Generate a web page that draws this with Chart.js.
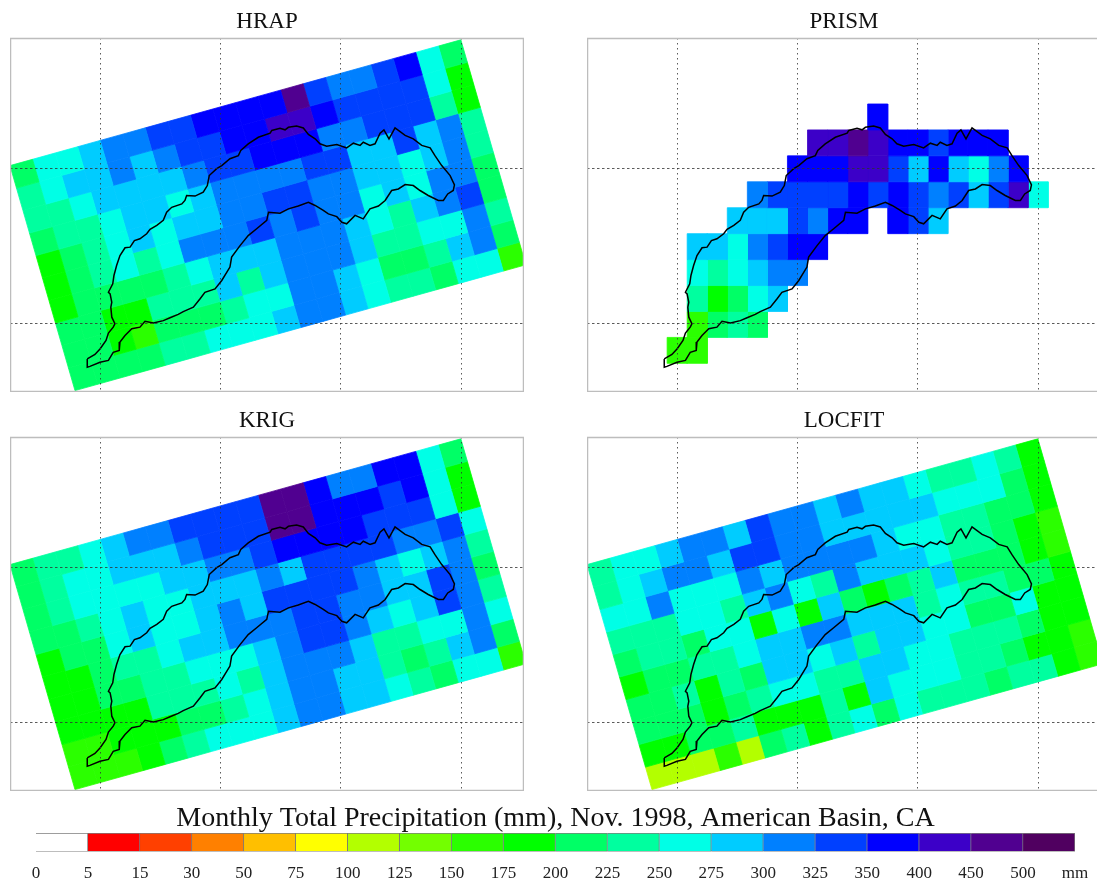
<!DOCTYPE html>
<html>
<head>
<meta charset="utf-8">
<title>Monthly Total Precipitation</title>
<script src="https://cdn.jsdelivr.net/npm/chart.js@4/dist/chart.umd.min.js"></script>
<style>
  html, body { margin: 0; padding: 0; background: #fff; overflow: hidden; width: 1097px; height: 883px; }
  canvas { position: absolute; filter: blur(0.6px); }
  #hrap { left: 10px; top: 2px; }
  #prism { left: 587px; top: 2px; }
  #krig { left: 10px; top: 401px; }
  #locfit { left: 587px; top: 401px; }
  #scale { left: 0; top: 800px; }
</style>
</head>
<body>
<canvas id="hrap" width="514" height="390"></canvas>
<canvas id="prism" width="514" height="390"></canvas>
<canvas id="krig" width="514" height="390"></canvas>
<canvas id="locfit" width="514" height="390"></canvas>
<canvas id="scale" width="1097" height="96"></canvas>
<script>
var n = null;

// colour scale, mm
var binEdges = [0, 5, 15, 30, 50, 75, 100, 125, 150, 175, 200, 225, 250, 275, 300, 325, 350, 400, 450, 500];
var binLabels = ["0", "5", "15", "30", "50", "75", "100", "125", "150", "175", "200", "225", "250", "275", "300", "325", "350", "400", "450", "500", "mm"];
var binColours = ["#ffffff", "#ff0000", "#ff4000", "#ff8000", "#ffbf00", "#ffff00", "#b3ff00", "#73ff00", "#2bff00", "#00ff00",
  "#00ff66", "#00ff9f", "#00ffe6", "#00ccff", "#0080ff", "#0040ff", "#0000ff", "#3c00c8", "#500090", "#500060"];

// map graticule, degrees
var lonTicks = [-121.5, -121, -120.5, -120];
var latTicks = [38.5, 39];

// monthly totals on the rotated 20 x 10 grid, mm
var hrapValues = [
  [212,262,262,287,312,312,337,337,375,375,375,375,475,337,312,312,337,375,262,212],
  [237,262,287,287,312,287,312,337,337,375,375,425,425,375,337,337,337,337,262,187],
  [237,237,262,287,287,287,287,312,337,337,375,375,375,312,312,337,337,337,237,187],
  [212,237,237,262,287,287,262,287,312,312,312,312,337,337,287,287,337,287,312,237],
  [187,212,237,262,287,262,287,287,312,312,337,337,312,312,287,287,262,287,312,237],
  [187,212,237,262,237,262,312,312,312,337,312,337,312,312,262,287,262,312,312,212],
  [187,212,212,212,212,237,262,287,287,287,312,312,312,287,262,237,287,312,337,212],
  [212,212,187,187,237,237,237,287,237,287,312,312,312,287,237,237,262,262,312,237],
  [212,212,187,162,212,212,212,237,262,262,312,312,287,262,212,212,237,287,312,212],
  [212,212,212,212,237,237,262,262,262,287,312,312,287,262,237,237,212,262,262,162]
];
var krigValues = [
  [212,237,237,262,287,312,312,337,337,337,337,475,475,375,312,312,375,375,262,212],
  [212,237,262,262,287,287,287,312,337,337,337,475,475,375,375,375,337,375,262,187],
  [212,237,262,262,262,262,287,287,312,312,337,375,375,375,375,337,337,337,262,187],
  [212,212,237,262,287,262,262,287,287,287,312,287,337,337,337,337,312,312,337,262],
  [187,212,212,262,287,262,262,287,312,287,337,337,337,337,312,287,262,287,312,237],
  [187,187,212,237,237,262,287,287,312,312,312,337,337,312,312,287,287,337,312,212],
  [187,187,212,212,237,237,262,262,262,287,312,337,337,312,287,262,287,337,312,237],
  [187,187,187,187,237,237,237,262,237,287,312,312,312,287,237,237,262,262,312,262],
  [162,162,187,187,187,212,212,237,262,287,312,312,287,287,237,212,237,287,312,212],
  [162,162,162,187,212,237,262,262,262,287,312,312,287,287,262,237,212,262,262,162]
];
var locfitValues = [
  [237,262,262,287,312,312,287,337,312,312,287,312,287,287,262,237,237,262,237,187],
  [237,262,287,312,312,287,337,337,312,312,287,287,287,287,287,262,262,262,212,187],
  [262,262,312,262,262,262,312,287,312,312,312,312,287,262,262,237,237,212,212,187],
  [237,237,237,262,262,237,287,312,262,237,312,287,287,287,262,237,237,212,187,162],
  [212,237,237,212,262,262,187,262,187,287,212,187,212,237,287,212,212,212,187,162],
  [187,212,212,237,237,262,287,287,312,312,287,287,287,237,262,237,237,212,212,187],
  [212,212,237,187,237,212,287,287,262,287,237,287,287,262,262,212,212,262,187,187],
  [212,212,212,187,212,237,262,262,237,237,287,287,262,262,237,237,237,212,187,187],
  [187,187,212,212,237,187,187,187,237,187,287,262,262,262,237,237,212,187,187,162],
  [112,112,112,162,112,212,237,187,237,262,212,262,237,237,237,212,237,237,187,162]
];
// PRISM sits on its own 1/12 degree lon/lat grid, only cells near the basin
var prismValues = [
  [n,n,n,n,n,n,n,n,n,n,375,n,n,n,n,n,n,n,n],
  [n,n,n,n,n,n,n,425,425,475,425,375,375,337,375,375,375,n,n],
  [n,n,n,n,n,n,375,375,375,425,425,337,287,375,287,262,312,375,n],
  [n,n,n,n,312,337,337,337,337,375,337,375,337,312,337,287,337,425,262],
  [n,n,n,287,287,287,337,312,375,375,n,375,337,287,n,n,n,n,n],
  [n,287,287,262,312,337,375,375,n,n,n,n,n,n,n,n,n,n,n],
  [n,262,237,262,287,312,312,n,n,n,n,n,n,n,n,n,n,n,n],
  [n,237,187,212,262,287,n,n,n,n,n,n,n,n,n,n,n,n,n],
  [n,162,212,237,212,n,n,n,n,n,n,n,n,n,n,n,n,n,n],
  [162,162,n,n,n,n,n,n,n,n,n,n,n,n,n,n,n,n,n]
];

// basin boundary, degrees
var basinLon = [-121.554,-121.522,-121.501,-121.476,-121.466,-121.446,-121.439,-121.452,-121.456,-121.452,-121.459,-121.466,-121.448,-121.443,-121.432,-121.418,-121.397,-121.376,-121.358,-121.335,-121.307,-121.293,-121.265,-121.238,-121.224,-121.203,-121.161,-121.148,-121.141,-121.106,-121.072,-121.055,-121.047,-121.016,-120.995,-120.961,-120.926,-120.916,-120.885,-120.843,-120.794,
  -120.787,-120.753,-120.732,-120.718,-120.684,-120.656,-120.635,-120.607,-120.587,-120.559,-120.517,-120.476,-120.448,-120.420,-120.407,-120.379,-120.358,-120.337,-120.321,-120.300,-120.275,-120.233,-120.199,-120.164,-120.129,-120.109,-120.081,-120.046,-120.028,-120.033,-120.056,-120.074,-120.095,-120.137,-120.171,-120.199,-120.233,-120.261,-120.289,-120.316,-120.344,-120.379,-120.407,-120.441,-120.476,-120.496,-120.517,-120.552,-120.573,-120.607,-120.635,-120.677,-120.718,-120.753,-120.801,
  -120.808,-120.850,-120.885,-120.919,-120.954,-120.961,-120.995,-121.023,-121.065,-121.085,-121.113,-121.155,-121.176,-121.210,-121.238,-121.279,-121.314,-121.335,-121.369,-121.397,-121.418,-121.421,-121.446,-121.466,-121.501,-121.543,-121.554,-121.554];
var basinLat = [38.387,38.401,38.419,38.446,38.470,38.489,38.500,38.521,38.553,38.569,38.596,38.601,38.628,38.655,38.687,38.719,38.744,38.746,38.767,38.773,38.789,38.803,38.816,38.832,38.858,38.874,38.885,38.896,38.912,38.910,38.923,38.944,38.976,38.998,39.008,39.030,39.040,39.057,39.078,39.099,39.112,
  39.121,39.128,39.123,39.131,39.135,39.129,39.108,39.094,39.078,39.070,39.076,39.065,39.080,39.073,39.083,39.073,39.078,39.112,39.123,39.094,39.129,39.105,39.094,39.073,39.065,39.040,39.008,38.976,38.946,38.928,38.917,38.896,38.896,38.912,38.928,38.944,38.947,38.933,38.928,38.896,38.878,38.869,38.837,38.848,38.821,38.826,38.844,38.853,38.864,38.880,38.890,38.878,38.869,38.855,38.858,
  38.832,38.805,38.783,38.751,38.714,38.682,38.639,38.612,38.601,38.580,38.553,38.539,38.530,38.519,38.510,38.502,38.508,38.489,38.484,38.462,38.441,38.414,38.408,38.382,38.376,38.363,38.360,38.387];

// grid geometry in degrees: corner of the first cell and one step along column / row
var rotatedGrid = { lon: -121.875, lat: 39.008, colLon: 0.09368, colLat: 0.02021, rowLon: 0.02701, rowLat: -0.07229 };
var prismGrid = { lon: -121.542, lat: 39.206, colLon: 1 / 12, colLat: 0, rowLon: 0, rowLat: -1 / 12 };

function colourFor(v) {
  var i = binEdges.length - 1;
  while (i > 0 && v < binEdges[i]) i--;
  return binColours[i];
}

// one closed filled polygon per grid cell
function cellDatasets(values, g) {
  var out = [];
  function corner(c, r) {
    return { x: g.lon + c * g.colLon + r * g.rowLon, y: g.lat + c * g.colLat + r * g.rowLat };
  }
  values.forEach(function(row, r) {
    row.forEach(function(v, c) {
      if (v === null) return;
      var col = colourFor(v);
      out.push({
        data: [corner(c, r), corner(c + 1, r), corner(c + 1, r + 1), corner(c, r + 1), corner(c, r)],
        showLine: true,
        fill: "shape",
        backgroundColor: col,
        borderColor: col,
        borderWidth: 0.8,
        pointRadius: 0
      });
    });
  });
  return out;
}

var boxPlugin = {
  id: "panelBox",
  afterDraw: function(chart) {
    var a = chart.chartArea, ctx = chart.ctx;
    ctx.save();
    ctx.strokeStyle = "#bdbdbd";
    ctx.lineWidth = 1.5;
    ctx.strokeRect(a.left + 0.5, a.top + 0.5, a.right - a.left - 1, a.bottom - a.top - 1);
    ctx.restore();
  }
};

function drawPanel(id, name, values, grid) {
  var outline = basinLon.map(function(lon, i) { return { x: lon, y: basinLat[i] }; });
  // first dataset is painted last, so the boundary goes first
  var datasets = [{
    data: outline,
    showLine: true,
    fill: false,
    borderColor: "#000",
    borderWidth: 1.5,
    pointRadius: 0
  }].concat(cellDatasets(values, grid));

  new Chart(document.getElementById(id), {
    type: "scatter",
    data: { datasets: datasets },
    plugins: [boxPlugin],
    options: {
      responsive: false,
      animation: false,
      events: [],
      layout: { padding: 0 },
      plugins: {
        legend: { display: false },
        tooltip: { enabled: false },
        title: {
          display: true,
          text: name,
          color: "#111",
          font: { family: "Liberation Serif", size: 23, weight: "normal", lineHeight: 1 },
          padding: { top: 8, bottom: 5 }
        }
      },
      scales: {
        x: {
          type: "linear",
          min: -121.875,
          max: -119.739,
          afterBuildTicks: function(s) { s.ticks = lonTicks.map(function(v) { return { value: v }; }); },
          ticks: { display: false },
          border: { display: false, dash: [1.5, 3.5] },
          grid: { color: "rgba(50,50,50,0.8)", lineWidth: 1, drawTicks: false, z: 1 }
        },
        y: {
          type: "linear",
          min: 38.2806,
          max: 39.418,
          afterBuildTicks: function(s) { s.ticks = latTicks.map(function(v) { return { value: v }; }); },
          ticks: { display: false },
          border: { display: false, dash: [2.5, 2.5] },
          grid: { color: "rgba(50,50,50,0.8)", lineWidth: 1, drawTicks: false, z: 1 }
        }
      }
    }
  });
}

drawPanel("hrap", "HRAP", hrapValues, rotatedGrid);
drawPanel("prism", "PRISM", prismValues, prismGrid);
drawPanel("krig", "KRIG", krigValues, rotatedGrid);
drawPanel("locfit", "LOCFIT", locfitValues, rotatedGrid);

// colour bar, every bin gets the same width
new Chart(document.getElementById("scale"), {
  type: "bar",
  data: {
    labels: ["mm"],
    datasets: binColours.map(function(col) {
      return { data: [1], backgroundColor: col, borderColor: "rgba(70,70,70,0.7)", borderWidth: 1 };
    })
  },
  options: {
    indexAxis: "y",
    responsive: false,
    animation: false,
    events: [],
    layout: { padding: { left: 36, right: 22 } },
    datasets: { bar: { barPercentage: 1, categoryPercentage: 1 } },
    plugins: {
      legend: { display: false },
      tooltip: { enabled: false },
      title: {
        display: true,
        text: "Monthly Total Precipitation (mm), Nov. 1998, American Basin, CA",
        color: "#111",
        font: { family: "Liberation Serif", size: 28, weight: "normal", lineHeight: 1 },
        padding: { top: 5, bottom: 0 }
      }
    },
    scales: {
      x: {
        type: "linear",
        stacked: true,
        min: 0,
        max: 20,
        // edge labels fit inside the layout padding, no extra room needed
        afterFit: function(s) { s.paddingLeft = 0; s.paddingRight = 0; },
        ticks: {
          stepSize: 1,
          autoSkip: false,
          maxRotation: 0,
          padding: 12,
          color: "#222",
          font: { family: "Liberation Serif", size: 17 },
          callback: function(v) { return binLabels[v]; }
        },
        border: { display: false },
        grid: { display: false, drawTicks: false }
      },
      y: { stacked: true, display: false }
    }
  }
});
</script>
</body>
</html>
